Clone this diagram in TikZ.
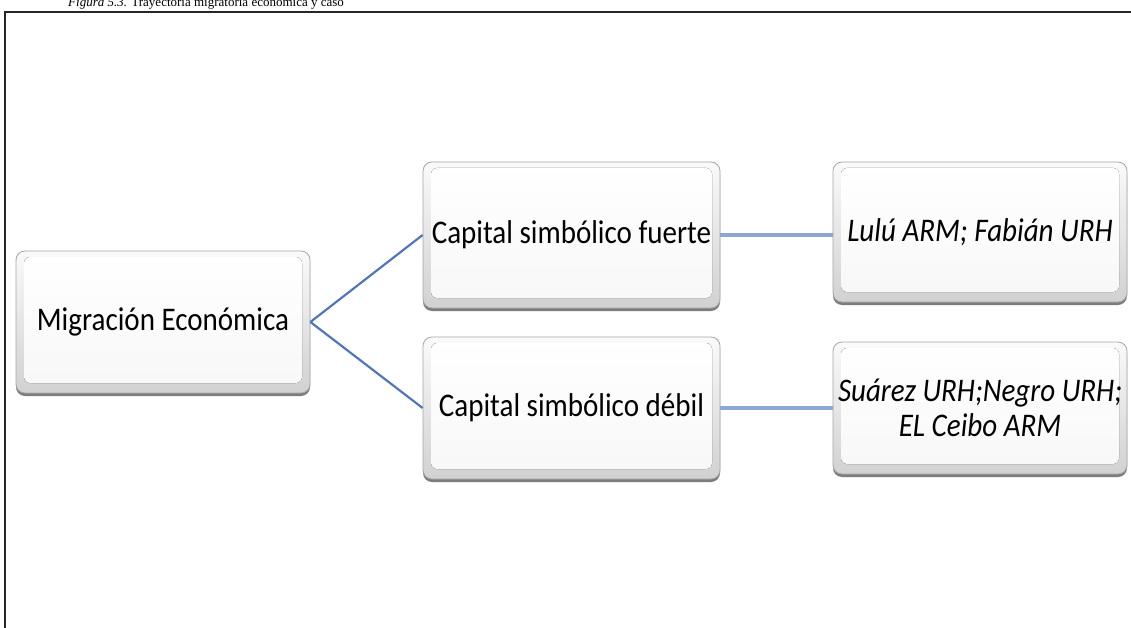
\documentclass[tikz,border=0pt]{standalone}
\usepackage{fontspec}
\setmainfont{Liberation Serif}
\newfontfamily\boxfont[FakeStretch=0.88]{Carlito}
\usetikzlibrary{shadows}
\definecolor{linkblue}{HTML}{5476B8}
\definecolor{barblue}{HTML}{8EA6D3}
\definecolor{framegray}{HTML}{262626}
\begin{document}
\begin{tikzpicture}[x=1pt,y=-1pt,
  box/.style={rectangle, rounded corners=9pt, draw=black!35, line width=0.8pt,
    top color=black!2, bottom color=black!18,
    drop shadow={shadow xshift=0pt, shadow yshift=-3pt, fill=black!60, opacity=0.85},
    path picture={
      \fill[rounded corners=6pt, top color=white, bottom color=black!3]
        ([xshift=8pt,yshift=-6pt]path picture bounding box.north west) rectangle
        ([xshift=-8pt,yshift=10pt]path picture bounding box.south east);
    },
    inner sep=0pt, align=center, text=black,
    font=\boxfont\fontsize{33}{35}\selectfont},
  casebox/.style={box, font=\boxfont\itshape\fontsize{33}{35}\selectfont},
  fork/.style={draw=linkblue, line width=2.2pt},
  bar/.style={draw=barblue, line width=4.5pt}]
\useasboundingbox (0,0) rectangle (1131,628);
\fill[white] (0,0) rectangle (1131,628);

% caption, running past the upper page edge
\node[anchor=base west, inner sep=0pt, font=\fontsize{13}{15}\selectfont] (caption) at (68,7)
  {\textit{Figura 5.3.} Trayectoria migratoria económica y caso};

% frame
\coordinate (fbl) at (5,640);
\coordinate (ftl) at (5,12);
\coordinate (ftr) at (1140,12);
\draw[framegray, line width=2.6pt] (fbl) -- (ftl) -- (ftr);

% boxes
\node[box, minimum width=294pt, minimum height=142pt] (mig) at (163,322) {Migración Económica};
\node[box, minimum width=297pt, minimum height=146pt] (fuerte) at (571.5,235) {Capital simbólico fuerte};
\node[box, minimum width=297pt, minimum height=142pt] (debil) at (571.5,408) {Capital simbólico débil};
\node[casebox, minimum width=294pt, minimum height=140pt] (casosF) at (980,232) {Lulú ARM; Fabián URH};
\node[casebox, minimum width=294pt, minimum height=132pt] (casosD) at (980,408) {Suárez URH;Negro URH;\\EL Ceibo ARM};

% connectors
\draw[fork] (mig.east) -- (fuerte.west);
\draw[fork] (mig.east) -- (debil.west);
\draw[bar] (fuerte.east) -- (fuerte.east -| casosF.west);
\draw[bar] (debil.east) -- (debil.east -| casosD.west);
\end{tikzpicture}
\end{document}
